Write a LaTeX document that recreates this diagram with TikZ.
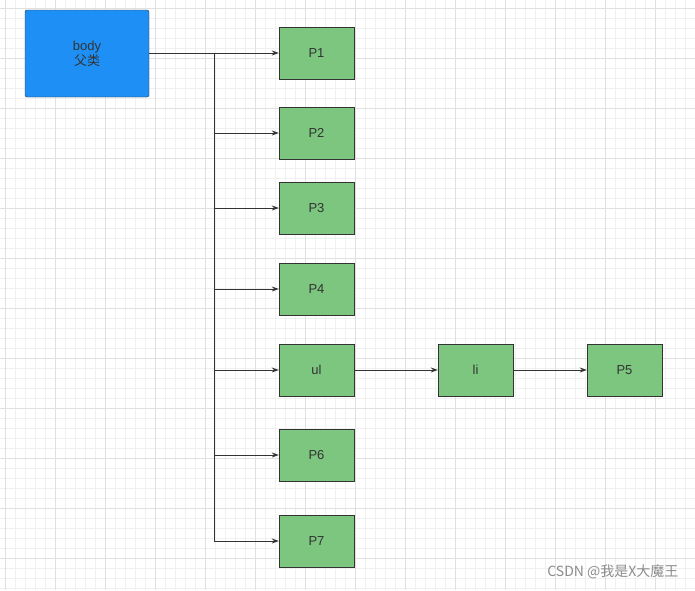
\documentclass[tikz,border=0pt]{standalone}
\usepackage{fontspec}
\setmainfont{Liberation Sans}
\newfontfamily\cjk{Noto Sans CJK SC}
\usetikzlibrary{positioning,arrows.meta}
\definecolor{boxgreen}{HTML}{7DC67F}
\definecolor{boxblue}{HTML}{1E90F5}
\tikzstyle{arrow} = [line width=1pt, ->, >={Stealth[length=7pt,width=5pt]}, draw=black!80]
\tikzstyle{pnode} = [
    rectangle,                 % Shape
    draw=black!80,             % Border color
    minimum width=75pt,        % Width
    minimum height=52pt,       % Height
    fill=boxgreen,             % Green background
    text=black!80,
    font=\fontsize{13}{15}\selectfont
]
\begin{document}
\begin{tikzpicture}[x=1pt,y=-1pt,node distance=0pt]
	\useasboundingbox (0,0) rectangle (695,590);
	\fill[white] (0,0) rectangle (695,590);

	% Grid
	\foreach \x in {5,15,...,695} \draw[black!6] (\x,0) -- (\x,590);
	\foreach \y in {8,18,...,590} \draw[black!6] (0,\y) -- (695,\y);
	\foreach \x in {5,55,...,695} \draw[black!12] (\x,0) -- (\x,590);
	\foreach \y in {8,58,...,590} \draw[black!12] (0,\y) -- (695,\y);

	% Parent node
	\node[pnode, fill=boxblue, rounded corners=2pt, minimum width=124pt, minimum height=87pt,
	      align=center] (body) at (87,53.5) {body\\[0pt]{\cjk 父类}};

	% Children
	\node[pnode] (p1) at (316.5,53) {P1};
	\node[pnode] (p2) at (316.5,133) {P2};
	\node[pnode] (p3) at (316.5,208) {P3};
	\node[pnode] (p4) at (316.5,289) {P4};
	\node[pnode] (ul) at (316.5,370) {ul};
	\node[pnode] (p6) at (316.5,455) {P6};
	\node[pnode] (p7) at (316.5,541) {P7};
	\node[pnode] (li) at (475.5,370) {li};
	\node[pnode] (p5) at (624.5,370) {P5};

	% Arrows
	\coordinate (trunk) at (214,53);
	\draw[black!80, line width=1pt] (body.east |- trunk) -- (trunk) -- (trunk |- p7);
	\foreach \n in {p1,p2,p3,p4,ul,p6,p7}
		\draw[arrow] (trunk |- \n) -- (\n.west);
	\draw[arrow] (ul) -- (li);
	\draw[arrow] (li) -- (p5);

	% Watermark
	\node[anchor=east, text=black!45, font=\cjk\fontsize{14}{16}\selectfont] (mark) at (682,572) {CSDN @我是X大魔王};
\end{tikzpicture}
\end{document}
